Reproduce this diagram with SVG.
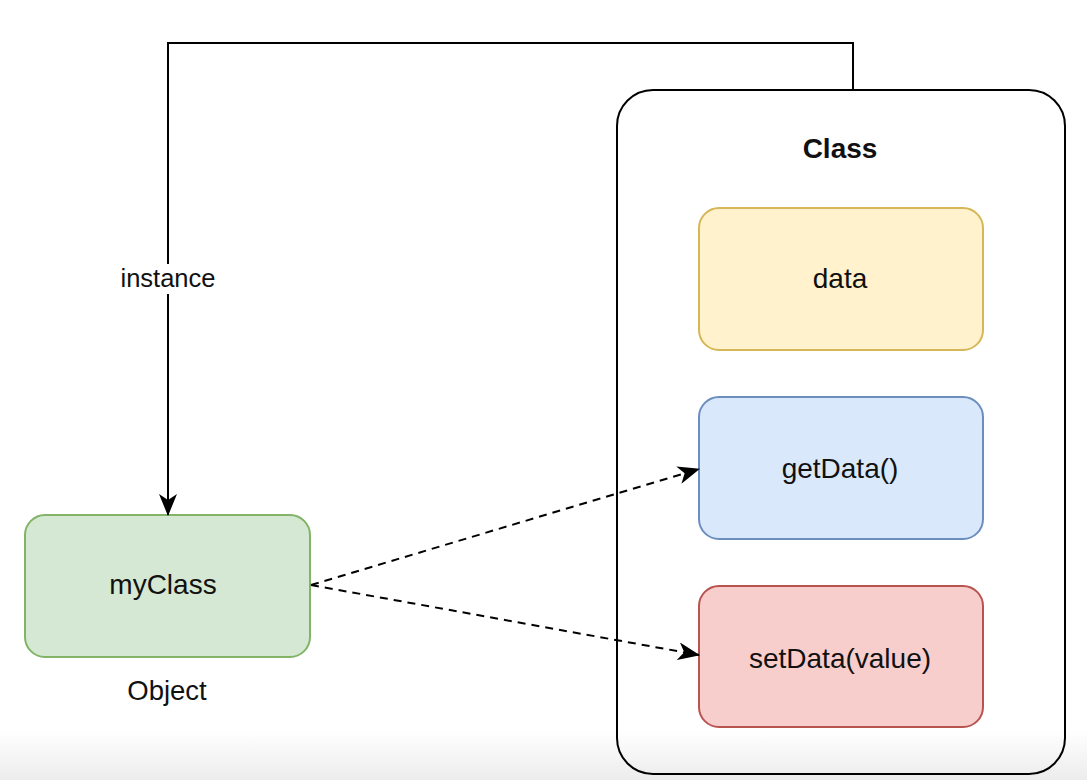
<svg xmlns="http://www.w3.org/2000/svg" width="1087" height="780" viewBox="0 0 1087 780">
  <defs>
    <linearGradient id="bg" x1="0" y1="0" x2="0" y2="1">
      <stop offset="0" stop-color="#ffffff"/>
      <stop offset="1" stop-color="#ececec"/>
    </linearGradient>
    <marker id="arrow" viewBox="0 0 22 18" refX="21" refY="9" markerWidth="22" markerHeight="18" markerUnits="userSpaceOnUse" orient="auto">
      <path d="M0,0 L22,9 L0,18 L6,9 Z" fill="#000"/>
    </marker>
    <style>
      .lbl { font-family: "Liberation Sans", Arial, sans-serif; font-size: 28px; fill: #111; text-anchor: middle; }
      .bold { font-weight: bold; font-size: 28px; }
      .small { font-size: 25.5px; }
      .obj { font-size: 27.5px; }
      .node { stroke-width: 2; }
      .conn { fill: none; stroke: #000; stroke-width: 2; }
      .dash { stroke-dasharray: 8 6; }
    </style>
  </defs>
  <rect x="0" y="0" width="1087" height="780" fill="#ffffff"/>
  <rect x="0" y="730" width="1087" height="50" fill="url(#bg)"/>

  <g id="class">
    <rect x="617" y="90" width="448" height="684" rx="36" ry="36" fill="none" stroke="#000" stroke-width="2"/>
    <text class="lbl bold" x="840" y="158">Class</text>
  </g>

  <g id="data">
    <rect class="node" x="699" y="208" width="284" height="142" rx="20" ry="20" fill="#fff2cc" stroke="#d6b656"/>
    <text class="lbl" x="840" y="288">data</text>
  </g>

  <g id="getData">
    <rect class="node" x="699" y="397" width="284" height="142" rx="20" ry="20" fill="#dae8fc" stroke="#6c8ebf"/>
    <text class="lbl" x="840" y="478">getData()</text>
  </g>

  <g id="setData">
    <rect class="node" x="699" y="586" width="284" height="141" rx="20" ry="20" fill="#f8cecc" stroke="#b85450"/>
    <text class="lbl" x="840" y="668">setData(value)</text>
  </g>

  <g id="myClass">
    <rect class="node" x="25" y="515" width="285" height="142" rx="20" ry="20" fill="#d5e8d4" stroke="#82b366"/>
    <text class="lbl" x="163" y="594">myClass</text>
    <text class="lbl obj" x="167" y="700">Object</text>
  </g>

  <g id="connectors">
    <path class="conn" d="M853,90 L853,43 L168,43 L168,515" marker-end="url(#arrow)"/>
    <rect x="110" y="264" width="116" height="30" fill="#ffffff"/>
    <text class="lbl small" x="168" y="287">instance</text>
    <path class="conn dash" d="M311,585 L699,469" marker-end="url(#arrow)"/>
    <path class="conn dash" d="M311,585 L699,655" marker-end="url(#arrow)"/>
  </g>
</svg>
